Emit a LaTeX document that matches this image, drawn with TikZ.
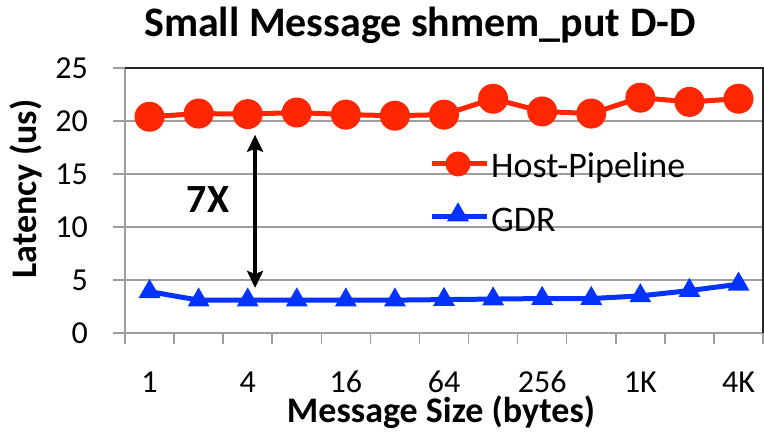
\documentclass[tikz,border=0pt]{standalone}
\usepackage{fontspec}
\setmainfont{Carlito}
\usetikzlibrary{arrows.meta,shapes.geometric}
\definecolor{hostred}{RGB}{255,38,0}
\definecolor{gdrblue}{RGB}{4,51,255}
\tikzset{
    grid line/.style={color=black!38,line width=1.5pt},
    frame line/.style={color=black!85,line width=1.5pt},
    host line/.style={color=hostred,line width=5pt,line join=round},
    gdr line/.style={color=gdrblue,line width=5pt,line join=round},
    host mark/.style={circle,fill=hostred,inner sep=0pt,outer sep=0pt,minimum size=#1},
    host mark/.default=30pt,
    gdr mark/.style={regular polygon,regular polygon sides=3,fill=gdrblue,inner sep=0pt,outer sep=0pt,minimum size=25.4pt},
    tick label/.style={font=\fontsize{32}{32}\selectfont,inner sep=0pt},
    axis title/.style={font=\fontsize{36}{36}\selectfont\bfseries,inner sep=0pt},
    legend label/.style={font=\fontsize{36}{36}\selectfont,anchor=base west,inner sep=0pt},
    gaparr/.style={<->,>={Stealth[length=17pt,width=16pt,inset=3pt]},line width=3.3pt},
}

\begin{document}
\begin{tikzpicture}[x=49.08pt,y=10.6pt]
    \useasboundingbox (-125pt,-102pt) rectangle (639pt,333pt);
    % grid and axes
    \foreach \v in {5,10,15,20} {
        \draw[grid line] (0,\v) -- (13,\v);
    };
    \draw[grid line] (0,25) -- (0,0) -- (13,0);
    \foreach \v in {0,5,...,25} {
        \draw[grid line] (0,\v) -- +(-12pt,0);
        \node[tick label,anchor=east] (ylab\v) at ([xshift=-37pt]0,\v) {\v};
    };
    \foreach \i in {0,...,13} {
        \draw[grid line] (\i,0) -- +(0,-11pt);
    };
    \foreach \s [count=\i from 0] in {1,4,16,64,256,1K,4K} {
        \node[tick label,anchor=base] (xlab\i) at ([yshift=-60pt]2*\i+0.5,0) {\s};
    };
    \draw[frame line] (0,25) -- (13,25) -- (13,0);

    % data
    \foreach \v [count=\i from 0] in {20.4,20.7,20.65,20.8,20.6,20.5,20.6,22.1,20.9,20.7,22.2,21.8,22.1} {
        \coordinate (h\i) at (\i+0.5,\v);
    };
    \foreach \v [count=\i from 0] in {3.9,3.1,3.1,3.1,3.1,3.1,3.15,3.2,3.25,3.25,3.5,4.0,4.6} {
        \coordinate (g\i) at (\i+0.5,\v);
    };
    \draw[host line] (h0) \foreach \i in {1,...,12} { -- (h\i) };
    \draw[gdr line] (g0) \foreach \i in {1,...,12} { -- (g\i) };
    \foreach \i in {0,...,12} {
        \node[host mark] (hm\i) at (h\i) {};
        \node[gdr mark] (gm\i) at (g\i) {};
    };

    % gap
    \coordinate (gaptop) at (2.65,18.7);
    \coordinate (gapbot) at (2.65,4.25);
    \draw[gaparr] (gaptop) -- (gapbot);
    \node[font=\fontsize{40}{40}\selectfont\bfseries] (gap) at (83pt,133pt) {7X};

    % legend
    \coordinate (hleg a) at (307pt,169pt);
    \coordinate (hleg b) at (362pt,169pt);
    \draw[host line] (hleg a) -- (hleg b);
    \node[host mark=25pt] (hlegmark) at (333pt,169pt) {};
    \node[legend label] (hleglab) at (366pt,155pt) {Host-Pipeline};
    \coordinate (gleg a) at (307pt,116pt);
    \coordinate (gleg b) at (362pt,116pt);
    \draw[gdr line] (gleg a) -- (gleg b);
    \node[gdr mark] (glegmark) at (333pt,118pt) {};
    \node[legend label] (gleglab) at (366pt,101pt) {GDR};

    % titles
    \node[font=\fontsize{42}{42}\selectfont\bfseries,anchor=base] (title) at (295pt,296pt) {Small Message shmem\_put D-D};
    \node[axis title,anchor=base] (xtitle) at (316pt,-90pt) {Message Size (bytes)};
    \node[axis title,anchor=base,rotate=90] (ytitle) at (-88pt,144pt) {Latency (us)};
\end{tikzpicture}
\end{document}
